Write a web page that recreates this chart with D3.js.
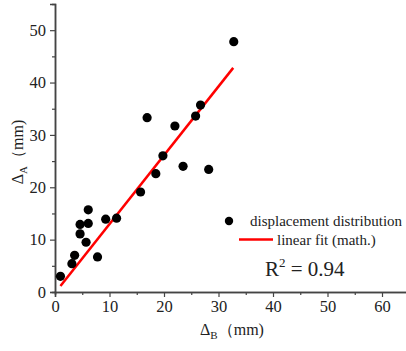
<!DOCTYPE html>
<html>
<head>
<meta charset="utf-8">
<script src="https://cdn.jsdelivr.net/npm/d3@7"></script>
<style>
  body { margin: 0; background: #fff; }
  svg text { font-family: "Liberation Serif", "Times New Roman", "DejaVu Serif", serif; }
</style>
</head>
<body>
<div id="chart"></div>
<script>
// measured points (mm)
var deltaB = [1.0, 3.1, 3.6, 4.6, 4.6, 5.7, 6.1, 6.1, 7.8, 9.3, 11.3, 15.7, 18.5, 19.8, 23.5, 28.2, 16.9, 22.0, 25.8, 26.7, 32.8];
var deltaA = [3.0, 5.4, 7.0, 12.9, 11.1, 9.5, 15.7, 13.1, 6.7, 13.9, 14.1, 19.1, 22.6, 26.0, 24.0, 23.4, 33.3, 31.7, 33.6, 35.7, 47.8];

// fitted line end points
var fitX = [1.0, 32.7];
var fitY = [1.15, 42.8];

var xTicks = [0, 10, 20, 30, 40, 50, 60];
var yTicks = [0, 10, 20, 30, 40, 50];

var chart_width = 406;
var chart_height = 351;
var plot_left = 55, plot_bottom = 292, plot_top = 4;
var serif = '"Liberation Serif", "Times New Roman", serif';

var svg = d3.select('#chart')
  .append('svg')
  .attr('width', chart_width)
  .attr('height', chart_height)
  .attr('font-family', serif);

var x_scale = d3.scaleLinear().domain([0, 65]).range([plot_left, plot_left + 65 * 5.45]);
var y_scale = d3.scaleLinear().domain([0, 55]).range([plot_bottom, plot_top]);

var axisColor = '#444';

// x axis: minor then major ticks
var x_minor = d3.axisBottom(x_scale).tickValues(d3.range(5, 65, 10)).tickSize(3).tickFormat('');
var x_axis = d3.axisBottom(x_scale).tickValues(xTicks).tickSize(5).tickPadding(3);
svg.append('g').attr('transform', 'translate(0,' + plot_bottom + ')').call(x_minor);
svg.append('g').attr('class', 'x-axis').attr('transform', 'translate(0,' + plot_bottom + ')').call(x_axis);

var y_minor = d3.axisLeft(y_scale).tickValues(d3.range(5, 55, 10)).tickSize(3).tickFormat('');
var y_axis = d3.axisLeft(y_scale).tickValues(yTicks).tickSize(5).tickPadding(4);
svg.append('g').attr('transform', 'translate(' + plot_left + ',0)').call(y_minor);
svg.append('g').attr('class', 'y-axis').attr('transform', 'translate(' + plot_left + ',0)').call(y_axis);

svg.selectAll('g').attr('font-family', serif).attr('font-size', 16.5);
svg.selectAll('.domain').attr('stroke', axisColor).attr('stroke-width', 1.5);
svg.selectAll('.tick line').attr('stroke', axisColor).attr('stroke-width', 1.2);
svg.selectAll('.tick text').attr('fill', '#222');

// axis titles
var xl = svg.append('text')
  .attr('x', 232).attr('y', 335)
  .attr('text-anchor', 'middle')
  .attr('fill', '#222')
  .style('font-size', '16px');
xl.append('tspan').text('Δ');
xl.append('tspan').attr('dy', 4).style('font-size', '11px').text('B');
xl.append('tspan').attr('dy', -4).text('（mm)');

var yl = svg.append('text')
  .attr('transform', 'translate(23,152) rotate(-90)')
  .attr('text-anchor', 'middle')
  .attr('fill', '#222')
  .style('font-size', '16px');
yl.append('tspan').text('Δ');
yl.append('tspan').attr('dy', 4).style('font-size', '11px').text('A');
yl.append('tspan').attr('dy', -4).text('（mm)');

// fit line
var line = d3.line()
  .x(function(d) { return x_scale(d[0]); })
  .y(function(d) { return y_scale(d[1]); });
svg.append('path')
  .datum(d3.zip(fitX, fitY))
  .attr('d', line)
  .attr('fill', 'none')
  .attr('stroke', '#ff0000')
  .attr('stroke-width', 2.5);

// points
svg.selectAll('circle.pt')
  .data(d3.zip(deltaB, deltaA))
  .enter()
  .append('circle')
  .attr('class', 'pt')
  .attr('cx', function(d) { return x_scale(d[0]); })
  .attr('cy', function(d) { return y_scale(d[1]); })
  .attr('r', 4.6)
  .attr('fill', '#000');

// legend
svg.append('circle').attr('cx', 229).attr('cy', 221).attr('r', 4.2).attr('fill', '#000');
svg.append('text').attr('x', 250).attr('y', 226).attr('fill', '#222')
  .style('font-size', '15px').text('displacement distribution');
svg.append('line').attr('x1', 239).attr('x2', 273).attr('y1', 239.5).attr('y2', 239.5)
  .attr('stroke', '#ff0000').attr('stroke-width', 2.5);
svg.append('text').attr('x', 277).attr('y', 245).attr('fill', '#222')
  .style('font-size', '15px').text('linear fit (math.)');

var r2 = svg.append('text').attr('x', 265).attr('y', 276).attr('fill', '#222')
  .style('font-size', '21px');
r2.append('tspan').text('R');
r2.append('tspan').attr('dy', -9).style('font-size', '13px').text('2');
r2.append('tspan').attr('dy', 9).text(' = 0.94');
</script>
</body>
</html>
